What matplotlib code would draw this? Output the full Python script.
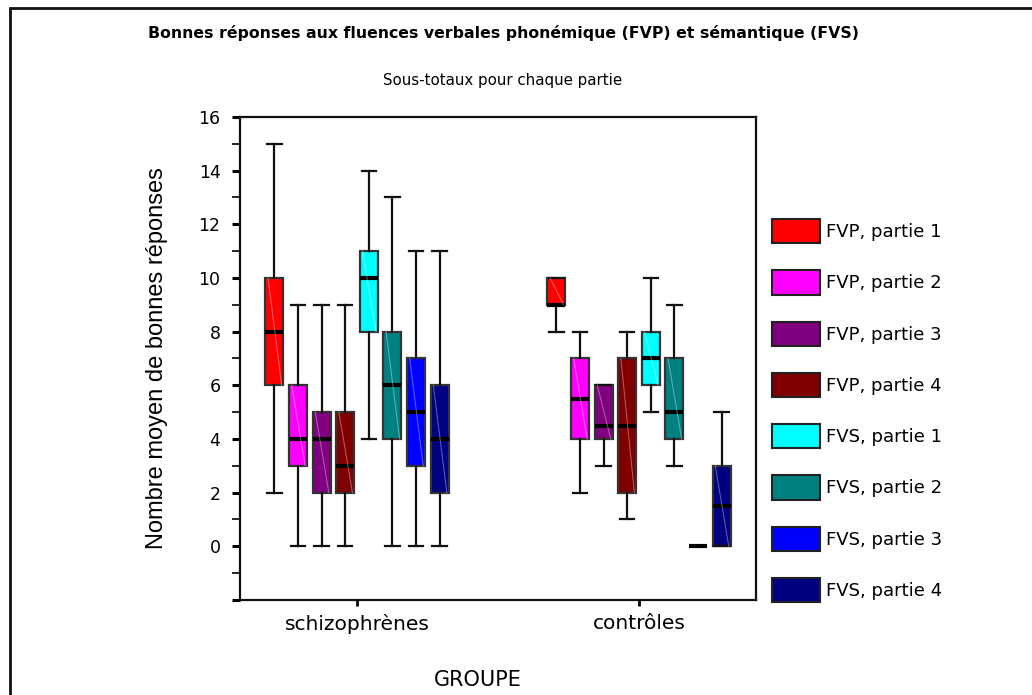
import matplotlib
matplotlib.use("Agg")
import matplotlib.pyplot as plt
from matplotlib.patches import Patch, Rectangle

# Data (whisker low, Q1, median, Q3, whisker high)
groups = ["schizophrènes", "contrôles"]
series = [
    "FVP, partie 1", "FVP, partie 2", "FVP, partie 3", "FVP, partie 4",
    "FVS, partie 1", "FVS, partie 2", "FVS, partie 3", "FVS, partie 4",
]
colors = ["#FF0000", "#FF00FF", "#800080", "#800000",
          "#00FFFF", "#008080", "#0000FF", "#000080"]

whislo = [[2, 0, 0, 0, 4, 0, 0, 0],
          [8, 2, 3, 1, 5, 3, 0, 0]]
q1 = [[6, 3, 2, 2, 8, 4, 3, 2],
      [9, 4, 4, 2, 6, 4, 0, 0]]
med = [[8, 4, 4, 3, 10, 6, 5, 4],
       [9, 5.5, 4.5, 4.5, 7, 5, 0, 1.5]]
q3 = [[10, 6, 5, 5, 11, 8, 7, 6],
      [10, 7, 6, 7, 8, 7, 0, 3]]
whishi = [[15, 9, 9, 9, 14, 13, 11, 11],
          [10, 8, 6, 8, 10, 9, 0, 5]]

W, H = 1032, 695
fig = plt.figure(figsize=(W / 100, H / 100), dpi=100)
ax = fig.add_axes([240 / W, 1 - 600 / H, (756 - 240) / W, (600 - 117) / H])

step = 0.0837
box_w = 0.064
for g in range(len(groups)):
    for i in range(len(series)):
        pos = g + 1 + (i - 3.5) * step
        stats = [dict(whislo=whislo[g][i], q1=q1[g][i], med=med[g][i],
                      q3=q3[g][i], whishi=whishi[g][i], fliers=[])]
        ax.bxp(stats, positions=[pos], widths=box_w, capwidths=box_w * 0.8,
               patch_artist=True, showfliers=False,
               boxprops=dict(facecolor=colors[i], edgecolor="#333333", linewidth=1.6),
               medianprops=dict(color="black", linewidth=3),
               whiskerprops=dict(color="#111111", linewidth=1.6),
               capprops=dict(color="#111111", linewidth=1.6))
        # faint diagonal artefact across each box
        if q3[g][i] > q1[g][i]:
            ax.plot([pos - box_w * 0.35, pos + box_w * 0.4], [q3[g][i], q1[g][i]],
                    color="white", alpha=0.35, linewidth=0.8, zorder=3)

ax.set_xlim(0.585, 2.415)
ax.set_ylim(-2, 16)
ax.set_xticks([1, 2])
ax.set_xticklabels(groups, fontsize=14.5, family="DejaVu Sans")
ax.set_yticks(range(-2, 17, 2))
ax.set_yticklabels([""] + [str(v) for v in range(0, 17, 2)], fontsize=12.5, family="DejaVu Sans")
ax.set_yticks(range(-1, 17, 2), minor=True)
ax.tick_params(axis="y", which="major", length=6, width=2.2, pad=8)
ax.tick_params(axis="y", which="minor", length=6, width=1.2)
ax.tick_params(axis="x", length=4, width=2, pad=6)
for sp in ax.spines.values():
    sp.set_linewidth(1.6)
    sp.set_color("#111111")

ax.set_ylabel("Nombre moyen de bonnes réponses", fontsize=17,
              family="Liberation Sans", labelpad=22)
fig.text(478 / W, 1 - 680 / H, "GROUPE", ha="center", va="center",
         fontsize=15, family="DejaVu Sans")

fig.text(503 / W, 1 - 33 / H,
         "Bonnes réponses aux fluences verbales phonémique (FVP) et sémantique (FVS)",
         ha="center", va="center", fontsize=11.3, fontweight="bold", family="DejaVu Sans")
fig.text(503 / W, 1 - 81 / H, "Sous-totaux pour chaque partie",
         ha="center", va="center", fontsize=10.8, family="DejaVu Sans")

handles = [Patch(facecolor=c, edgecolor="#222222", linewidth=1.5) for c in colors]
fs = 13
px = fs * 100 / 72
fig.legend(handles, series, loc="upper left",
           bbox_to_anchor=(772 / W, 1 - 219 / H), frameon=False,
           prop={"family": "DejaVu Sans", "size": fs},
           handlelength=48 / px, handleheight=1.84 * 12 / fs,
           labelspacing=(50.9 - 24) / px, handletextpad=6 / px,
           borderpad=0, borderaxespad=0)

# outer frame of the exported chart
fig.add_artist(Rectangle((10 / W, -0.1), 1.2, 1.1 - 8 / H, transform=fig.transFigure,
                         fill=False, edgecolor="#111111", linewidth=2))

fig.savefig("out.png", dpi=100)
